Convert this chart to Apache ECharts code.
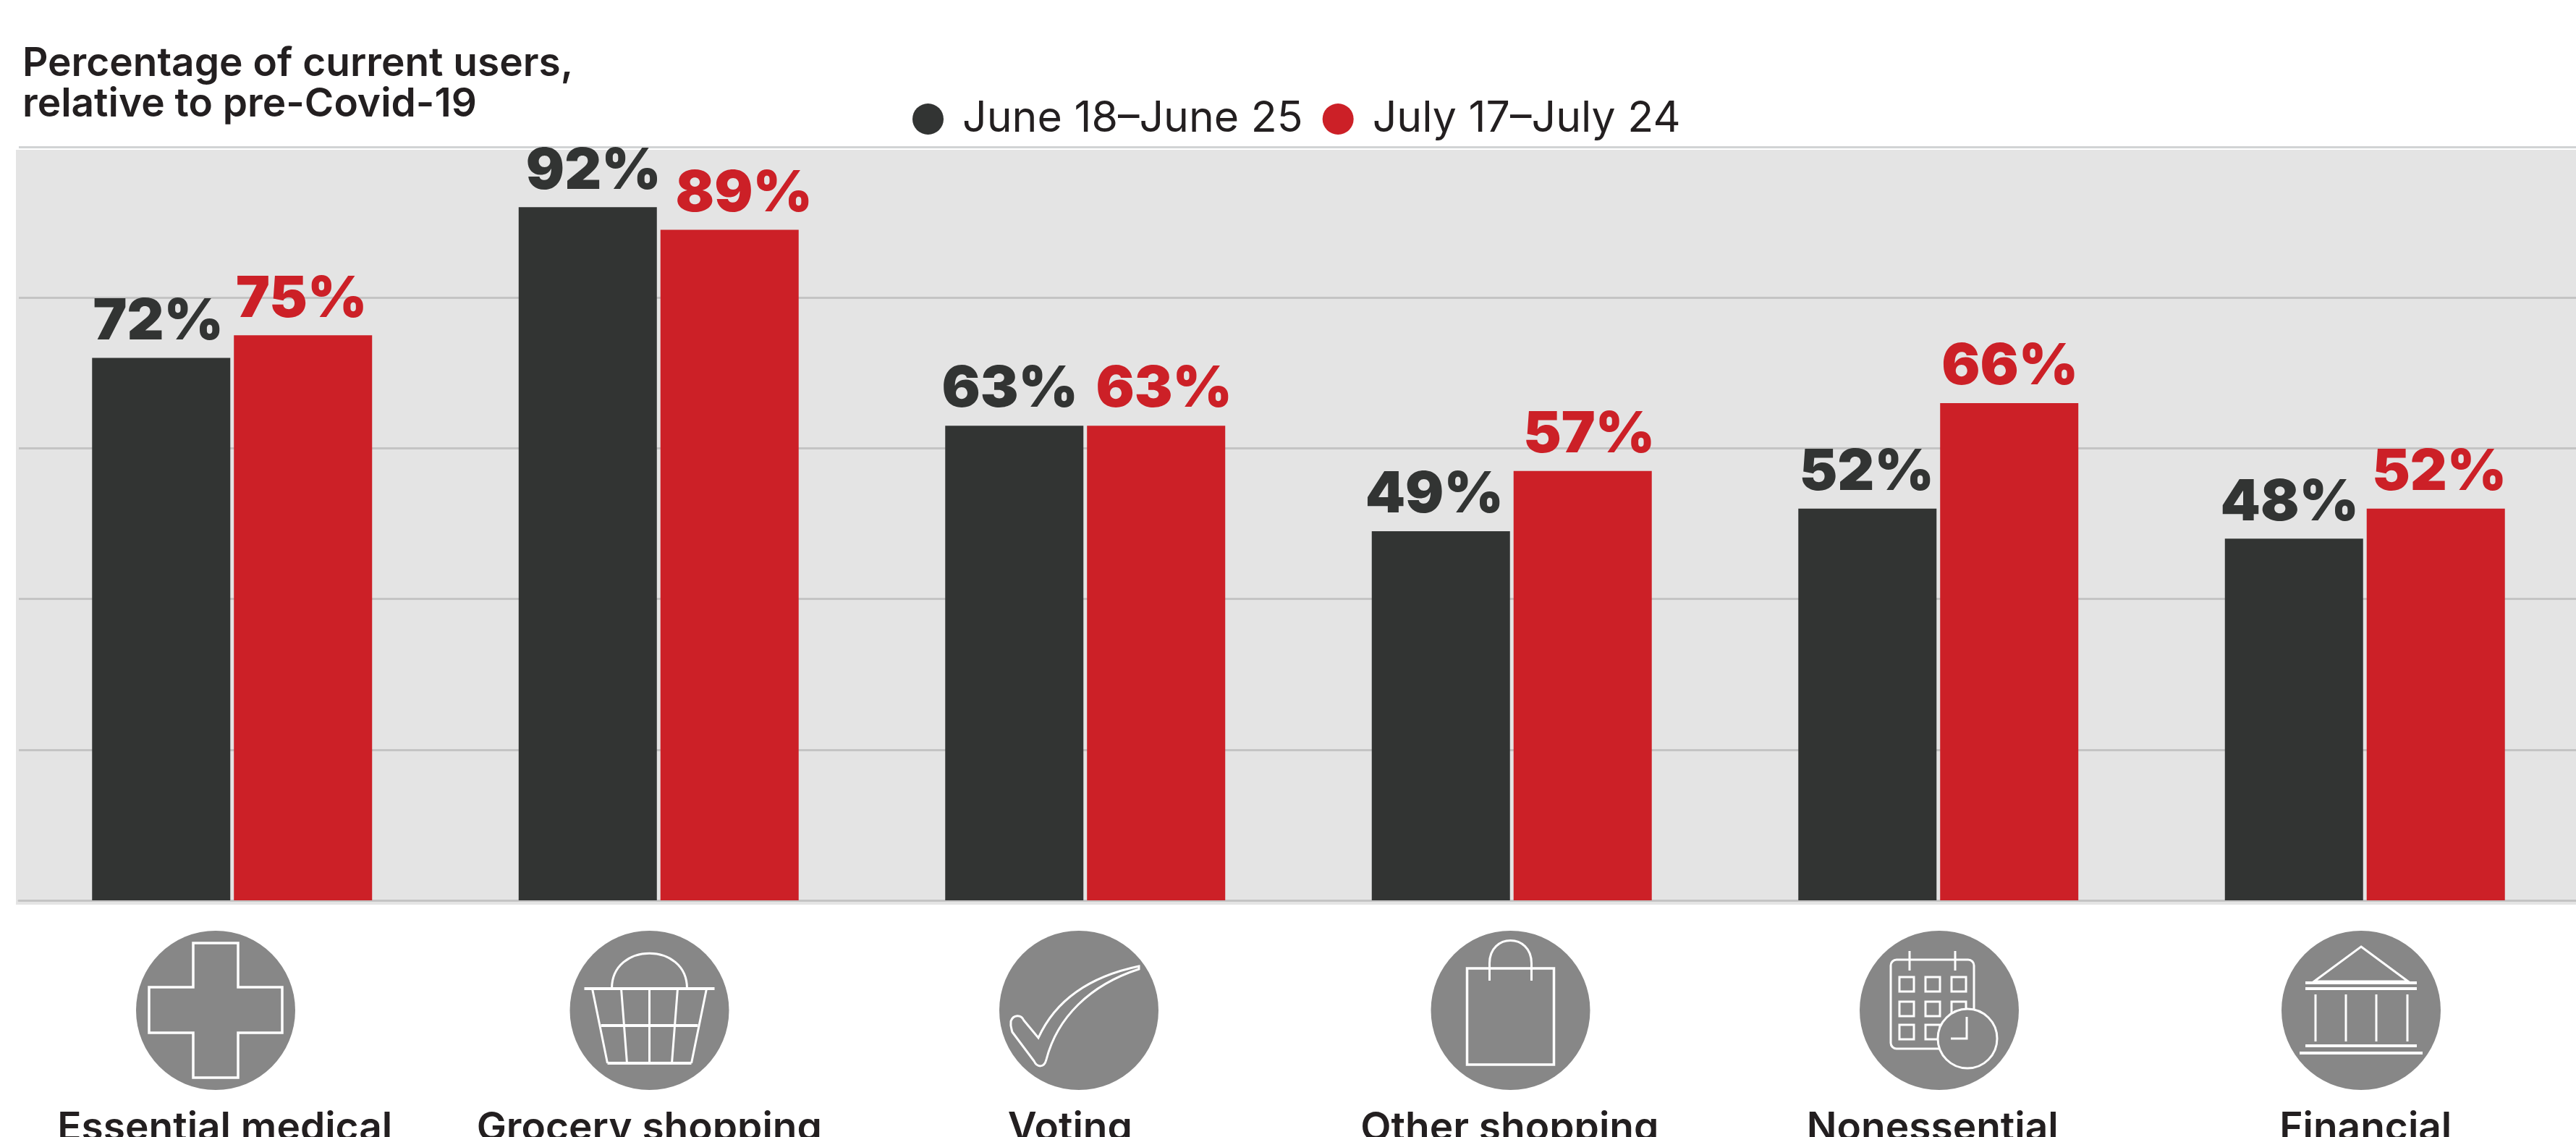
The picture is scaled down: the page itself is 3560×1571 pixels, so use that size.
<!DOCTYPE html>
<html><head><meta charset="utf-8">
<script src="https://cdn.jsdelivr.net/npm/echarts@6/dist/echarts.min.js"></script>
<style>html,body{margin:0;padding:0;background:#fff;overflow:hidden}#c{width:3560px;height:1571px}</style>
</head><body><div id="c"></div>
<script>
const categories = ['Essential medical','Grocery shopping','Voting','Other shopping','Nonessential','Financial'];
const june = [72,92,63,49,52,48];
const july = [75,89,63,57,66,52];
const seriesNames = ['June 18–June 25','July 17–July 24'];
const titleText = 'Percentage of current users,\nrelative to pre-Covid-19';

const DARK='#323433', RED='#cc2027', INK='#231f20', DISC='#878787';
const labelShift = [-10,-13,-21,-3,-8,1];
const juneShift = [-4,8,-6,-9,-1,-6];
const julyShift = [-2,20,11,9,1,5];
const iconX = [298,897.5,1491,2087.5,2680,3263];
const iconY = 1396;

const W='#fff';
let pathId=0;
function line(d,lw){
  const name='iconPath'+(pathId++);
  echarts.graphic.registerShape(name,echarts.graphic.extendPath(d,{}));
  return {type:name,style:{fill:'none',stroke:W,lineWidth:lw||3,lineJoin:'miter'}};
}
const icons = [
 [line('M-31,-93 L31,-93 L31,-32 L92,-32 L92,31 L31,31 L31,93 L-31,93 L-31,31 L-92,31 L-92,-32 L-31,-32 Z',3.5)],
 [line('M-52,-30 C-52,-95 52,-95 52,-30',3),line('M-90,-30 L90,-30',4),
  line('M-79,-30 L-58,73 M79,-30 L58,73',3),
  line('M-58,73 L58,73',4),line('M-39,-30 L-31,73 M0,-30 L0,73 M39,-30 L31,73',3),line('M-67,21 L67,21',4)],
 [line('M83,-61 C40,-52 -25,-30 -56,38 L-76,14 C-80,5 -91,6 -94,15 C-95,22 -93,26 -92,30 L-62,70 C-58,79 -48,80 -45,68 C-30,10 15,-35 83,-57 Z',3)],
 [line('M-60,-58 L60,-58 L60,75 L-60,75 Z',3.5),line('M-29,-41 L-29,-65 C-29,-107 29,-107 29,-65 L29,-41',3)],
 [{type:'rect',shape:{x:-67,y:-70,width:115,height:123,r:8},style:{fill:'none',stroke:W,lineWidth:3}},
  line('M-41,-82 L-41,-55 M22,-82 L22,-55',3),
  ...[-55,-19,17].flatMap(x=>[-46,-12,20].map(y=>({type:'rect',shape:{x:x,y:y,width:20,height:20},style:{fill:'none',stroke:W,lineWidth:3}}))),
  {type:'circle',shape:{cx:39,cy:39,r:41},style:{fill:DISC,stroke:W,lineWidth:3}},
  line('M38,9 L38,39 L16,39',3)],
 [line('M0,-88 L65,-40 L-65,-40 Z',3),line('M-77,-38 L77,-38 M-77,-30 L77,-30',4),
  line('M-63,-22 L-63,43 M-21,-22 L-21,43 M21,-22 L21,43 M64,-22 L64,43',3),
  line('M-77,49 L77,49 M-85,59 L85,59',4)]
];
const iconGraphics = icons.map((kids,i)=>({type:'group',x:iconX[i],y:iconY,children:[
  {type:'circle',shape:{cx:0,cy:0,r:110},style:{fill:DISC}},...kids]}));

const FONT='Inter';
function barLabel(color){return {show:true,position:'top',distance:10,formatter:'{c}%',
  fontFamily:'Inter',fontWeight:900,fontSize:79,color:color};}
const shifted=(vals,shift)=>vals.map((v,i)=>({value:v,label:{offset:[shift[i],0]}}));
const rich={};
labelShift.forEach((s,i)=>{rich['c'+i]={fontFamily:FONT,fontWeight:600,fontSize:55,color:INK,
  padding:s<0?[0,-2*s,0,0]:[0,0,0,2*s]};});

const chart=echarts.init(document.getElementById('c'),null,{renderer:'canvas'});
chart.setOption({
 animation:false,backgroundColor:'#fff',
 title:{text:titleText,left:26,top:55,textStyle:{fontFamily:FONT,fontWeight:600,fontSize:55,lineHeight:56,color:INK}},
 legend:{data:seriesNames,left:1256,top:130,icon:'circle',itemWidth:43,itemHeight:43,itemGap:27,selectedMode:false,
   textStyle:{fontFamily:FONT,fontWeight:400,fontSize:59,color:INK,padding:[0,0,0,21]}},
 grid:{left:26,right:-3,top:203,bottom:327,outerBoundsMode:'none'},
 graphic:[{type:'rect',z:-10,silent:true,shape:{x:22,y:207,width:3538,height:1043},style:{fill:'#e4e4e4'}},
   ...iconGraphics],
 xAxis:{type:'category',data:categories,axisTick:{show:false},
   axisLine:{show:true,lineStyle:{color:'#c4c4c4',width:3}},
   axisLabel:{margin:288,interval:0,formatter:(v,i)=>`{c${i}|${v}}`,rich:rich}},
 yAxis:{type:'value',min:0,max:100,interval:20,axisLabel:{show:false},axisLine:{show:false},axisTick:{show:false},
   splitLine:{lineStyle:{color:['#c4c4c4','#c4c4c4','#c4c4c4','#c4c4c4','#c4c4c4','#d1d3d4'],width:3}}},
 series:[
  {name:seriesNames[0],type:'bar',data:shifted(june,juneShift),barWidth:191,barGap:'2.6%',itemStyle:{color:DARK},label:barLabel(DARK)},
  {name:seriesNames[1],type:'bar',data:shifted(july,julyShift),barWidth:191,itemStyle:{color:RED},label:barLabel(RED)}
 ]
});
</script></body></html>
